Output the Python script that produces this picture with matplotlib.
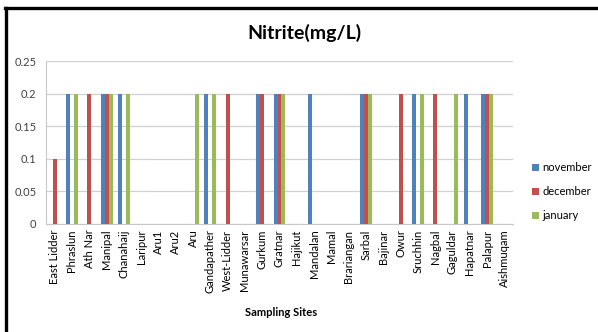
import numpy as np
import matplotlib
matplotlib.use("Agg")
import matplotlib.pyplot as plt
from matplotlib.lines import Line2D

plt.rcParams['font.family'] = ['Lato', 'DejaVu Sans']

sites = ["East Lidder", "Phraslun", "Ath Nar", "Manipal", "Chanahaij", "Laripur",
         "Aru1", "Aru2", "Aru", "Gandapather", "West-Lidder", "Munawarsar",
         "Gurkum", "Gratnar", "Hajikut", "Mandalan", "Mamal", "Brariangan",
         "Sarbal", "Bajinar", "Owur", "Sruchhin", "Nagbal", "Gaguldar",
         "Hapatnar", "Palapur", "Aishmuqam"]

november = [0, 0.2, 0, 0.2, 0.2, 0, 0, 0, 0, 0.2, 0, 0, 0.2, 0.2, 0, 0.2, 0, 0,
            0.2, 0, 0, 0.2, 0, 0, 0.2, 0.2, 0]
december = [0.1, 0, 0.2, 0.2, 0, 0, 0, 0, 0, 0, 0.2, 0, 0.2, 0.2, 0, 0, 0, 0,
            0.2, 0, 0.2, 0, 0.2, 0, 0, 0.2, 0]
january = [0, 0.2, 0, 0.2, 0.2, 0, 0, 0, 0.2, 0.2, 0, 0, 0, 0.2, 0, 0, 0, 0,
           0.2, 0, 0, 0.2, 0, 0.2, 0, 0.2, 0]

series = [("november", november, "#4F81BD"),
          ("december", december, "#C0504D"),
          ("january", january, "#9BBB59")]

W, H = 598, 332
fig = plt.figure(figsize=(W / 100, H / 100), dpi=100)
ax = fig.add_axes([46 / W, 1 - 224 / H, (513 - 46) / W, (224 - 61) / H])

x = np.arange(len(sites))
bw = 0.23
for i, (name, vals, col) in enumerate(series):
    ax.bar(x + (i - 1) * bw, vals, width=bw, color=col, label=name, zorder=3)

ax.set_xlim(-0.5, len(sites) - 0.5)
ax.set_ylim(0, 0.25)
ax.set_yticks([0, 0.05, 0.1, 0.15, 0.2, 0.25])
ax.set_yticklabels(["0", "0.05", "0.1", "0.15", "0.2", "0.25"], fontsize=8, color="#404040")
ax.set_xticks(x)
ax.set_xticklabels(sites, rotation=90, fontsize=8, color="#000000")
ax.tick_params(axis="both", length=0)
ax.tick_params(axis="y", pad=7)
ax.tick_params(axis="x", pad=4)
ax.grid(axis="y", color="#D0D0D0", linewidth=0.9, zorder=0)
for s in ["top", "right"]:
    ax.spines[s].set_visible(False)
ax.spines["left"].set_color("#C8C8C8")
ax.spines["bottom"].set_color("#C8C8C8")

fig.text(304 / W, 1 - 33 / H, "Nitrite(mg/L)", ha="center", va="center",
         fontsize=14, fontweight="bold")
fig.text(281 / W, 1 - 312 / H, "Sampling Sites", ha="center", va="center",
         fontsize=8, fontweight="bold")

leg = fig.legend(loc="upper left", bbox_to_anchor=(528 / W, 1 - 158 / H),
                 frameon=False, fontsize=8, handlelength=0.6, handleheight=0.6,
                 handletextpad=0.3, labelspacing=1.15, borderaxespad=0)

# frame lines along the top and left edges
fig.add_artist(Line2D([5 / W, 1], [1 - 8 / H, 1 - 8 / H], color="black", linewidth=2.4,
                      transform=fig.transFigure))
fig.add_artist(Line2D([6 / W, 6 / W], [0, 1 - 8 / H], color="black", linewidth=2.4,
                      transform=fig.transFigure))

fig.savefig("out.png", dpi=100, facecolor="white")
